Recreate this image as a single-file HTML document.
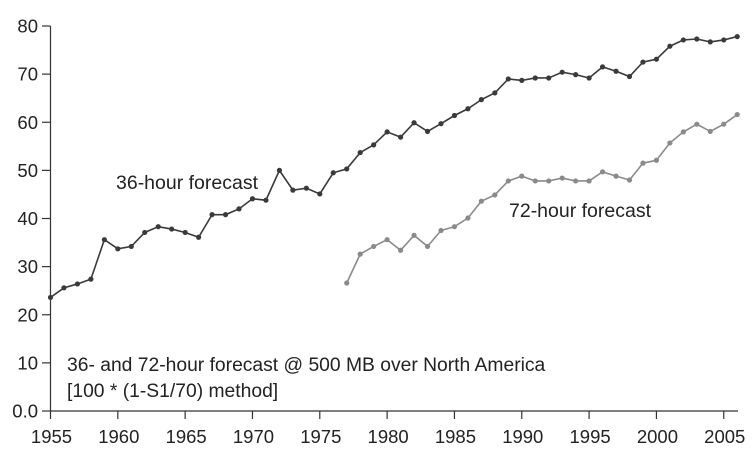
<!DOCTYPE html>
<html><head><meta charset="utf-8"><style>
html,body{margin:0;padding:0;background:#fff;}
svg{display:block;font-family:"Liberation Sans",sans-serif;}
</style></head><body>
<svg id="chart" width="754" height="456">
<g id="axes"></g>
<g id="series"></g>
<text x="116" y="189" font-size="19.5" fill="#222">36-hour forecast</text>
<text x="509" y="217" font-size="19.5" fill="#222">72-hour forecast</text>
<text x="67" y="371" font-size="19.3" fill="#222">36- and 72-hour forecast @ 500 MB over North America</text>
<text x="67" y="397" font-size="19.3" fill="#222">[100 * (1-S1/70) method]</text>
</svg>
<script>
const years36 = [1955,1956,1957,1958,1959,1960,1961,1962,1963,1964,1965,1966,1967,1968,1969,1970,1971,1972,1973,1974,1975,1976,1977,1978,1979,1980,1981,1982,1983,1984,1985,1986,1987,1988,1989,1990,1991,1992,1993,1994,1995,1996,1997,1998,1999,2000,2001,2002,2003,2004,2005,2006];
const values36 = [23.6,25.6,26.4,27.4,35.6,33.7,34.2,37.1,38.3,37.8,37.1,36.1,40.8,40.8,42,44.1,43.8,50,45.9,46.3,45.1,49.5,50.3,53.7,55.3,58,56.9,59.9,58.1,59.7,61.4,62.8,64.7,66.1,69,68.7,69.2,69.2,70.4,69.9,69.2,71.5,70.6,69.5,72.5,73.1,75.8,77.1,77.3,76.7,77.1,77.8];
const years72 = [1977,1978,1979,1980,1981,1982,1983,1984,1985,1986,1987,1988,1989,1990,1991,1992,1993,1994,1995,1996,1997,1998,1999,2000,2001,2002,2003,2004,2005,2006];
const values72 = [26.6,32.6,34.2,35.6,33.4,36.5,34.2,37.5,38.3,40.1,43.6,44.9,47.8,48.8,47.8,47.8,48.4,47.8,47.8,49.7,48.8,48,51.5,52.1,55.7,58,59.6,58.1,59.6,61.6];
const xTicks = [1955,1960,1965,1970,1975,1980,1985,1990,1995,2000,2005];
const yTicks = [0,10,20,30,40,50,60,70,80];
const yTickLabels = ["0.0","10","20","30","40","50","60","70","80"];

const NS="http://www.w3.org/2000/svg";
const x = yr => 50.5 + (yr-1955)*13.465;
const y = v => 411 - v*4.8125;
function mk(tag, attrs, parent){const e=document.createElementNS(NS,tag);for(const k in attrs)e.setAttribute(k,attrs[k]);parent.appendChild(e);return e;}
const axes=document.getElementById('axes'), series=document.getElementById('series');
let e;
e=mk('line',{x1:50.5,y1:26,x2:50.5,y2:411,stroke:'#333','stroke-width':1.2},axes);


e=mk('line',{x1:50.5,y1:411,x2:738,y2:411,stroke:'#333','stroke-width':1.2},axes);


yTicks.forEach((t,i)=>{
  mk('line',{x1:42,x2:50.5,y1:y(t),y2:y(t),stroke:'#333','stroke-width':1.2},axes);
  e=mk('text',{x:38,y:y(t)+6.5,'text-anchor':'end','font-size':18.5,fill:'#222'},axes);
  e.textContent=yTickLabels[i];
  
  
});
xTicks.forEach(t=>{
  mk('line',{x1:x(t),x2:x(t),y1:411,y2:419,stroke:'#333','stroke-width':1.2},axes);
  e=mk('text',{x:x(t)+1,y:443,'text-anchor':'middle','font-size':18.5,fill:'#222'},axes);
  e.textContent=String(t);
  
  
});
function draw(ys,vs,color,name){
  const g=mk('g',{},series);
  
  
  const pts=ys.map((yr,i)=>x(yr)+','+y(vs[i])).join(' ');
  mk('polyline',{points:pts,fill:'none',stroke:color,'stroke-width':1.6},g);
  ys.forEach((yr,i)=>{
    const c=mk('circle',{cx:x(yr),cy:y(vs[i]),r:2.6,fill:color},g);
    
    
  });
}
draw(years36,values36,'#3a3a3a','series-36-hour');
draw(years72,values72,'#8a8a8a','series-72-hour');
</script>
</body></html>
